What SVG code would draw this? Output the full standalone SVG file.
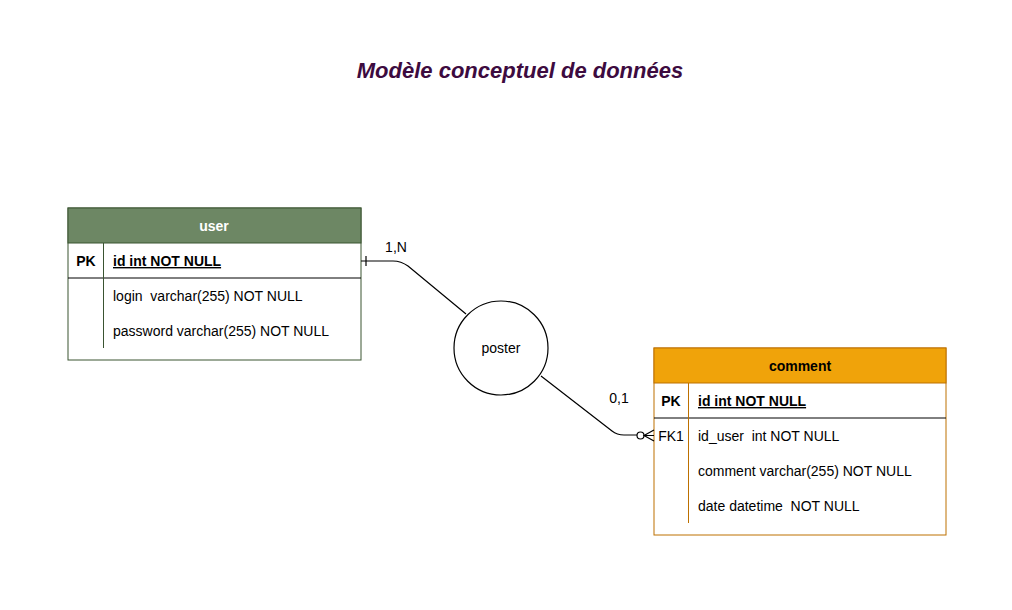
<svg xmlns="http://www.w3.org/2000/svg" width="1012" height="610" viewBox="0 0 1012 610">
<style>
text{font-family:"Liberation Sans",Arial,sans-serif;font-size:14px;fill:#000;white-space:pre}
.b{font-weight:bold}
.c{text-anchor:middle}
.u{text-decoration:underline}
.ln{fill:none;stroke:#000;stroke-width:1.2}
</style>
<rect width="1012" height="610" fill="#fff"/>
<text x="520" y="78" class="c" style="font-size:22px;font-weight:bold;font-style:italic;fill:#3d0b3f">Modèle conceptuel de données</text>
<g id="user">
<rect x="68" y="208" width="293" height="152" fill="#fff" stroke="#3a5431"/>
<rect x="68" y="208" width="293" height="35" fill="#6d8764" stroke="#3a5431"/>
<line x1="68" y1="278" x2="361" y2="278" stroke="#000"/>
<line x1="103.5" y1="243" x2="103.5" y2="348" stroke="#3a5431"/>
<text x="214" y="231" class="b c" style="fill:#fff">user</text>
<text x="86" y="266" class="b c">PK</text>
<text x="113" y="266" class="b u">id int NOT NULL</text>
<text x="113" y="301" xml:space="preserve">login  varchar(255) NOT NULL</text>
<text x="113" y="336">password varchar(255) NOT NULL</text>
</g>
<g id="comment">
<rect x="654" y="348" width="292" height="187" fill="#fff" stroke="#bd7000"/>
<rect x="654" y="348" width="292" height="35" fill="#f0a30a" stroke="#bd7000"/>
<line x1="654" y1="418" x2="946" y2="418" stroke="#000"/>
<line x1="688.5" y1="383" x2="688.5" y2="523" stroke="#bd7000"/>
<text x="800" y="371" class="b c">comment</text>
<text x="671" y="406" class="b c">PK</text>
<text x="698" y="406" class="b u">id int NOT NULL</text>
<text x="671" y="441" class="c">FK1</text>
<text x="698" y="441" xml:space="preserve">id_user  int NOT NULL</text>
<text x="698" y="476">comment varchar(255) NOT NULL</text>
<text x="698" y="511" xml:space="preserve">date datetime  NOT NULL</text>
</g>
<g id="poster">
<circle cx="501" cy="348" r="47" fill="#fff" stroke="#000" stroke-width="1.2"/>
<text x="501" y="353" class="c">poster</text>
</g>
<g id="connectors">
<path class="ln" d="M361 261 H393 Q401 261 408 266 L466 314"/>
<line class="ln" x1="366" y1="256" x2="366" y2="266"/>
<text x="396" y="252" class="c">1,N</text>
<path class="ln" d="M541 376 L612 431 Q617 435 624 435 H637"/>
<circle cx="640.5" cy="435.5" r="3.5" fill="#fff" stroke="#000" stroke-width="1.2"/>
<path class="ln" d="M654 430 L644 435.5 L654 441 M644 435.5 H654"/>
<text x="619" y="403" class="c">0,1</text>
</g>
</svg>
